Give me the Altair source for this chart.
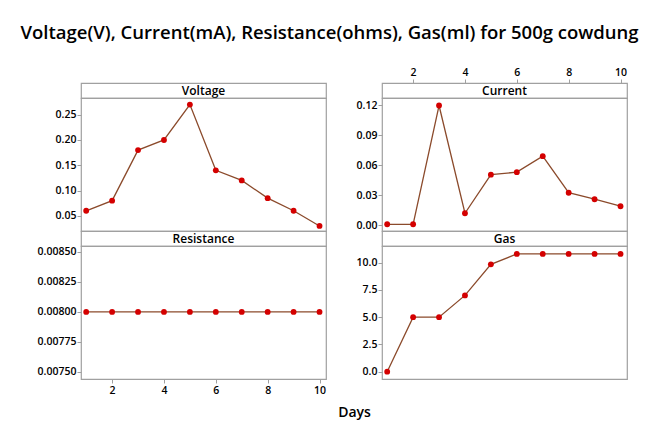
import altair as alt
import pandas as pd

days = [1, 2, 3, 4, 5, 6, 7, 8, 9, 10]
voltage = [0.06, 0.08, 0.18, 0.20, 0.27, 0.14, 0.12, 0.085, 0.06, 0.03]
current = [0.001, 0.001, 0.1195, 0.012, 0.0505, 0.053, 0.069, 0.0325, 0.026, 0.019]
resistance = [0.008] * 10
gas = [0.0, 5.0, 5.0, 7.0, 9.85, 10.8, 10.8, 10.8, 10.8, 10.8]

x_ticks = [2, 4, 6, 8, 10]
v_ticks = [0.05, 0.10, 0.15, 0.20, 0.25]
c_ticks = [0.00, 0.03, 0.06, 0.09, 0.12]
r_ticks = [0.0075, 0.00775, 0.0080, 0.00825, 0.0085]
g_ticks = [0.0, 2.5, 5.0, 7.5, 10.0]

df = pd.DataFrame({"Days": days, "Voltage": voltage, "Current": current,
                   "Resistance": resistance, "Gas": gas})

W = 245
SH = 15
PH = 133
FONT = "Open Sans"
LFS = 10.5
LINE = "#8B4A2B"
PT = "#D40000"
FRAME = "#A0A0A0"

xscale = alt.Scale(domain=[0.8, 10.25], nice=False, zero=False)


def x_none():
    return alt.X("Days:Q", scale=xscale, axis=None)


def strip(label, top_axis=False):
    if top_axis:
        xenc = alt.X("Days:Q", scale=xscale,
                     axis=alt.Axis(orient="top", values=x_ticks, title=None, grid=False,
                                   domain=False, tickColor=FRAME, tickSize=4,
                                   labelFont=FONT, labelFontSize=LFS, labelFontWeight=600,
                                   labelColor="#000000", labelPadding=2))
    else:
        xenc = x_none()
    base = alt.Chart(df).mark_point(opacity=0).encode(x=xenc)
    txt = alt.Chart(pd.DataFrame({"t": [label]})).mark_text(
        font=FONT, fontSize=12, fontWeight=600, color="#000000"
    ).encode(text="t:N", x=alt.value(W / 2), y=alt.value(SH / 2 + 0.5))
    return alt.layer(base, txt).properties(
        width=W, height=SH, view=alt.ViewBackground(stroke=FRAME, strokeWidth=1.2))


def plot(field, domain, ticks, fmt, xaxis=None):
    if xaxis is None:
        xenc = x_none()
    else:
        xenc = alt.X("Days:Q", scale=xscale, axis=xaxis)
    yenc = alt.Y(f"{field}:Q", scale=alt.Scale(domain=domain, nice=False, zero=False),
                 axis=alt.Axis(values=ticks, format=fmt, title=None, grid=False, domain=False,
                               tickColor=FRAME, tickSize=4, labelFont=FONT, labelFontSize=LFS,
                               labelFontWeight=600, labelColor="#000000", labelPadding=1))
    base = alt.Chart(df).encode(x=xenc, y=yenc)
    line = base.mark_line(color=LINE, strokeWidth=1.3)
    pts = base.mark_circle(color=PT, size=34, opacity=1)
    return alt.layer(line, pts).properties(
        width=W, height=PH, view=alt.ViewBackground(stroke=FRAME, strokeWidth=1.2))


bottom_axis = alt.Axis(values=x_ticks, title=None, grid=False, domain=False, tickColor=FRAME,
                       tickSize=4, labelFont=FONT, labelFontSize=LFS, labelFontWeight=600,
                       labelColor="#000000", labelPadding=2)
gas_axis = alt.Axis(values=x_ticks, labels=False, ticks=False, grid=False, domain=False,
                    title="Days", titleX=-28, titleFont=FONT, titleFontSize=14,
                    titleFontWeight=600, titleColor="#000000", titlePadding=26)

chart = alt.concat(
    strip("Voltage"), strip("Current", top_axis=True),
    plot("Voltage", [0.02, 0.283], v_ticks, ".2f"),
    plot("Current", [-0.0057, 0.127], c_ticks, ".2f"),
    strip("Resistance"), strip("Gas"),
    plot("Resistance", [0.00744, 0.00855], r_ticks, ".5f", xaxis=bottom_axis),
    plot("Gas", [-0.67, 11.53], g_ticks, ".1f", xaxis=gas_axis),
    columns=2,
    spacing={"row": 0, "column": 56},
    bounds="flush",
).properties(
    title=alt.TitleParams("Voltage(V), Current(mA), Resistance(ohms), Gas(ml) for 500g cowdung",
                          anchor="start", font=FONT, fontSize=18.5, fontWeight=600,
                          color="#000000", dx=-16, offset=24),
    padding={"left": 12, "top": 15, "right": 5, "bottom": 5},
).configure(background="#ffffff")

chart.save("out.html", embed_options={"renderer": "svg", "actions": False})
